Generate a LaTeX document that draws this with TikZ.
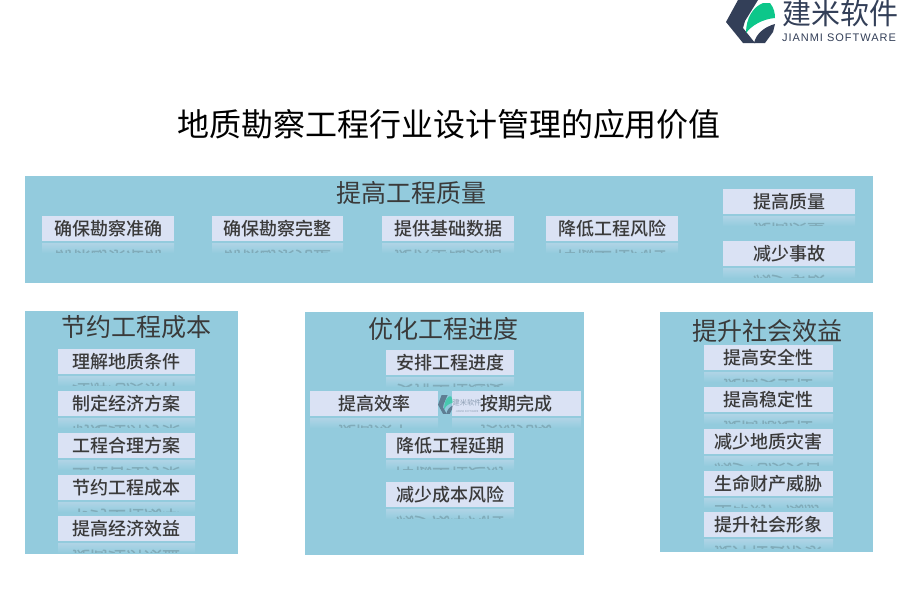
\documentclass[tikz,border=0pt]{standalone}
\usepackage{fontspec}
\setmainfont{Noto Sans CJK SC}
\newfontfamily\cjkb{Noto Sans CJK SC Medium}
\newfontfamily\latinf[LetterSpace=9]{Liberation Sans}
\usetikzlibrary{shadings,fadings}
\definecolor{panelc}{HTML}{93CBDD}
\definecolor{boxc}{HTML}{DAE2F4}
\definecolor{inkc}{HTML}{3A3A3A}
\definecolor{logod}{HTML}{333F58}
\definecolor{logog}{HTML}{0CC78A}
\tikzset{
  panel/.style={fill=panelc,draw=none,inner sep=0pt},
  panelhead/.style={font=\fontsize{25}{25}\selectfont,text=inkc,inner sep=0pt},
  itembox/.style={fill=boxc,draw=none,inner sep=0pt,minimum height=25pt,font=\cjkb\fontsize{18}{18}\selectfont,text=inkc},
  glow/.style={draw=none,top color=boxc!40!panelc,bottom color=panelc}
}
% #1 name, #2 x-left, #3 y-top, #4 width, #5 text
\newcommand{\itemb}[5]{%
  \fill[glow] (#2,#3+27) rectangle ++(#4,10);
  \begin{scope}
    \clip (#2,#3+28) rectangle ++(#4,8);
    \node[yscale=-1,transform shape,inner sep=0pt,font=\cjkb\fontsize{18}{18}\selectfont,text=inkc!22!panelc] at (#2+#4/2,#3+42) {#5};
  \end{scope}
  \node[itembox,minimum width=#4 pt] (#1) at (#2+#4/2,#3+12.5) {#5};
}
\newcommand{\logomark}[2]{%
  \fill[#1] (738,0) -- (758,0) -- (745,21) -- (743,28) -- (755,43) -- (743,43) -- (726,22) -- cycle;
  \fill[#2] (746,33) .. controls (746,18) and (753,7) .. (763,3) -- (770,3) .. controls (774,8) and (775,13) .. (775,18) .. controls (763,19) and (752,25) .. (746,33) -- cycle;
  \fill[#1] (775,24) -- (773,32) -- (765,43) -- (754,43) .. controls (756,34) and (764,27) .. (775,24) -- cycle;
}
\begin{document}
\begin{tikzpicture}[x=1pt,y=-1pt]
\useasboundingbox (0,0) rectangle (900,600);
\fill[white] (0,0) rectangle (900,600);
% logo
\logomark{logod}{logog}
\node[inner sep=0pt,text=logod,font=\fontsize{29}{29}\selectfont] (logoname) at (840,13) {建米软件};
\node[inner sep=0pt,text=logod,font=\latinf\fontsize{11}{11}\selectfont] (logoen) at (839,38) {JIANMI SOFTWARE};
% title
\node[inner sep=0pt,text=black,font=\fontsize{32}{32}\selectfont] (title) at (449,124) {地质勘察工程行业设计管理的应用价值};
% panels
\fill[panel] (25,176) rectangle (873,283);
\fill[panel] (25,311) rectangle (238,554);
\fill[panel] (305,312) rectangle (584,555);
\fill[panel] (660,312) rectangle (873,552);
\node[panelhead] (h1) at (411,193) {提高工程质量};
\node[panelhead] (h2) at (136,327) {节约工程成本};
\node[panelhead] (h3) at (443,329) {优化工程进度};
\node[panelhead] (h4) at (767,331) {提升社会效益};
% top panel
\itemb{a1}{42}{216}{132}{确保勘察准确}
\itemb{a2}{212}{216}{131}{确保勘察完整}
\itemb{a3}{382}{216}{132}{提供基础数据}
\itemb{a4}{546}{216}{132}{降低工程风险}
\itemb{a5}{723}{189}{132}{提高质量}
\itemb{a6}{723}{241}{132}{减少事故}
% left panel
\itemb{b1}{58}{349}{137}{理解地质条件}
\itemb{b2}{58}{391}{137}{制定经济方案}
\itemb{b3}{58}{433}{137}{工程合理方案}
\itemb{b4}{58}{475}{137}{节约工程成本}
\itemb{b5}{58}{516}{137}{提高经济效益}
% middle panel
\itemb{c1}{386}{350}{128}{安排工程进度}
\itemb{c2}{310}{391}{128}{提高效率}
\itemb{c3}{452}{391}{129}{按期完成}
\itemb{c4}{386}{433}{128}{降低工程延期}
\itemb{c5}{386}{482}{128}{减少成本风险}
% right panel
\itemb{d1}{704}{345}{129}{提高安全性}
\itemb{d2}{704}{387}{129}{提高稳定性}
\itemb{d3}{704}{429}{129}{减少地质灾害}
\itemb{d4}{704}{471}{129}{生命财产威胁}
\itemb{d5}{704}{512}{129}{提升社会形象}
% watermark
\begin{scope}[opacity=.55]
\begin{scope}[shift={(438,395)},xscale=.3,yscale=.44,shift={(-726,0)}]
\logomark{logod}{logog}
\end{scope}
\node[inner sep=0pt,text=logod!70!panelc,font=\fontsize{7.2}{7.2}\selectfont] (wm) at (467,403) {建米软件};
\node[inner sep=0pt,text=logod!70!panelc,font=\fontsize{2.6}{2.6}\selectfont] (wmen) at (467,412) {JIANMI SOFTWARE};
\end{scope}
\end{tikzpicture}
\end{document}
